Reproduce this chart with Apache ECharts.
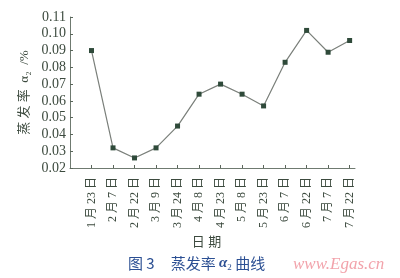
<!DOCTYPE html>
<html>
<head>
<meta charset="utf-8">
<script src="https://cdn.jsdelivr.net/npm/echarts@6/dist/echarts.min.js"></script>
<style>
html,body{margin:0;padding:0;background:#fff;}
#c{width:400px;height:278px;}
</style>
</head>
<body>
<div id="c"></div>
<script>
// Sampling dates and evaporation rate α2 (%)
const dates = ['1 月 23 日','2 月 7 日','2 月 22 日','3 月 9 日','3 月 24 日','4 月 8 日','4 月 23 日','5 月 8 日','5 月 23 日','6 月 7 日','6 月 22 日','7 月 7 日','7 月 22 日'];
const rates = [0.090,0.032,0.026,0.032,0.045,0.064,0.070,0.064,0.057,0.083,0.102,0.089,0.096];
const yTicks = [0.02,0.03,0.04,0.05,0.06,0.07,0.08,0.09,0.10,0.11];

const serif = '"Liberation Serif","Noto Sans CJK SC",serif';
const txt = '#3c4a3e';

const chart = echarts.init(document.getElementById('c'), null, {renderer:'canvas'});
chart.setOption({
  animation:false,
  backgroundColor:'#fff',
  grid:{left:70,right:45,top:17,bottom:110,containLabel:false},
  xAxis:{
    type:'value',min:0,max:13.25,interval:1,
    axisLine:{lineStyle:{color:'#6f7a70',width:1}},
    axisTick:{inside:true,length:3,lineStyle:{color:'#5a665b'}},
    splitLine:{show:false},
    axisLabel:{
      rotate:90,color:txt,fontFamily:serif,fontSize:12,margin:9,
      showMinLabel:false,showMaxLabel:false,
      formatter:v=>{const i=Math.round(v);return (Math.abs(v-i)<1e-6&&i>=1&&i<=dates.length)?dates[i-1]:'';}
    },
    name:'日 期',nameLocation:'middle',nameGap:64,
    nameTextStyle:{color:txt,fontFamily:serif,fontSize:13,padding:[0,0,0,-12]}
  },
  yAxis:{
    type:'value',min:yTicks[0],max:yTicks[yTicks.length-1],interval:0.01,
    axisLine:{show:true,lineStyle:{color:'#6f7a70',width:1}},
    axisTick:{show:true,inside:true,length:3,lineStyle:{color:'#5a665b'}},
    splitLine:{show:false},
    axisLabel:{color:txt,fontFamily:serif,fontSize:14,margin:4,formatter:v=>v.toFixed(2)},
    name:'蒸 发 率  α₂  /%',nameLocation:'middle',nameGap:34,nameRotate:90,
    nameTextStyle:{color:txt,fontFamily:serif,fontSize:13,padding:[0,0,0,0]}
  },
  series:[{
    type:'line',
    data:rates.map((v,i)=>[i+1,v]),
    symbol:'rect',symbolSize:5,
    lineStyle:{color:'#7a7f7a',width:1.2},
    itemStyle:{color:'#2f4a3a'}
  }],
  graphic:[
    {type:'text',left:128,top:256,style:{
      text:'{a|图 3}{g|}{a|蒸发率 }{b|α}{s|2}{a| 曲线}',
      rich:{
        a:{fill:'#2b4f93',font:'15px "Noto Sans CJK SC",sans-serif'},
        g:{width:16},
        b:{fill:'#2b4f93',font:'bold italic 15px "Liberation Serif",serif'},
        s:{fill:'#2b4f93',font:'9px "Liberation Serif",serif',padding:[8,0,0,0]}
      }}},
    {type:'text',left:293,top:256,style:{
      text:'www.Egas.cn',fill:'#f2a3ab',
      font:'italic 17px "Liberation Serif",serif'}}
  ]
});
</script>
</body>
</html>
